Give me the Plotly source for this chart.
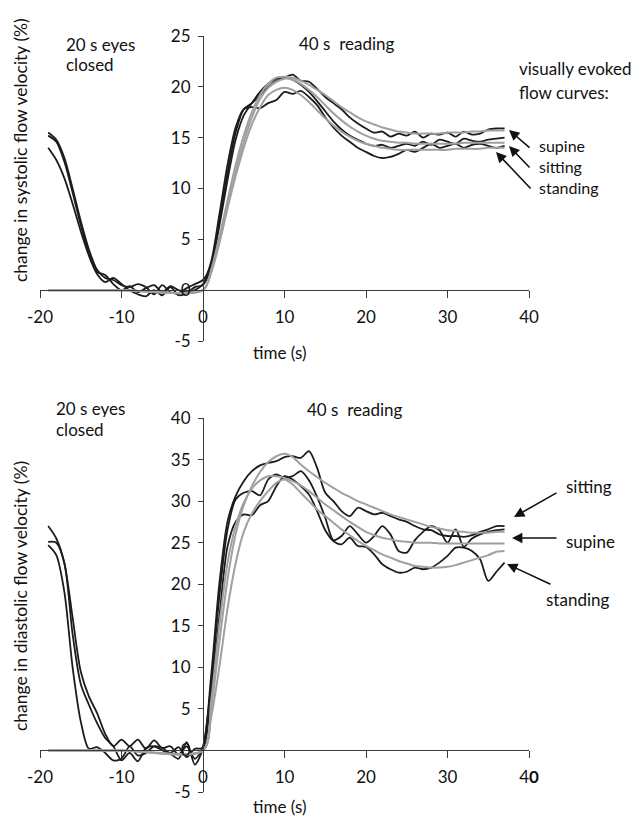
import plotly.graph_objects as go

# ---------------- data ----------------
t = list(range(-19, 38))                       # time (s) for measured curves
t_fit = [-19, -10] + list(range(0, 38))        # time (s) for fitted curves

# systolic (top panel) measured curves
sys_supine_data = [15.5, 14.8, 13.0, 10.0, 6.8, 4.0, 2.0, 1.2, 1.0, 0.5, 0.3, 0.6, 0.3, -0.4, 0.5, -0.2, -0.3, 0.2, 0.6,
                   1.0, 2.6, 6.8, 11.5, 15.5, 17.8, 18.4, 19.2, 20.0, 20.6, 20.9, 21.2, 20.6, 20.5, 19.8, 19.0, 18.4, 17.8,
                   17.0, 16.4, 15.9, 15.5, 15.6, 15.1, 15.4, 15.2, 15.6, 15.0, 15.4, 15.3, 15.5, 15.1, 15.6, 15.3, 15.4,
                   15.8, 15.9, 15.9]
sys_sitting_data = [14.0, 12.8, 11.0, 8.5, 5.8, 3.4, 1.6, 0.8, 1.2, 0.6, 0.0, -0.4, -0.6, 0.0, -0.5, 0.3, -0.5, -0.3, 0.3,
                    0.5, 2.3, 6.3, 10.8, 14.8, 17.2, 18.4, 19.5, 20.3, 20.8, 20.9, 20.7, 20.2, 19.5, 18.6, 17.6, 16.6, 15.8,
                    15.2, 14.8, 14.4, 14.2, 14.3, 14.0, 14.2, 14.4, 14.2, 14.6, 14.3, 14.8, 14.6, 14.4, 14.9, 14.7, 14.6,
                    14.8, 14.9, 15.0]
sys_standing_data = [15.2, 14.6, 12.6, 9.6, 6.4, 3.6, 1.8, 1.5, 0.6, 0.0, 0.4, -0.2, 0.2, 0.5, -0.2, 0.4, 0.0, -0.2, 0.0,
                     0.6, 2.8, 7.4, 12.3, 16.0, 17.8, 18.0, 17.9, 18.4, 18.7, 19.5, 19.3, 19.6, 19.0, 18.2, 17.0, 16.0, 15.2,
                     14.6, 14.0, 13.6, 13.2, 13.0, 13.1, 13.4, 13.8, 13.6, 14.0, 14.4, 14.0, 14.2, 14.4, 14.0, 14.3, 14.4,
                     14.2, 14.0, 14.2]

# systolic fitted curves
sys_supine_fit = [0.0, 0.0, 0.0, 2.0, 5.2, 8.8, 12.3, 15.2, 17.5, 19.2, 20.3, 20.9, 21.0, 20.9, 20.6, 20.2, 19.7, 19.2,
                  18.6, 18.0, 17.5, 17.0, 16.6, 16.3, 16.0, 15.8, 15.6, 15.5, 15.4, 15.4, 15.4, 15.4, 15.5, 15.5, 15.5,
                  15.6, 15.6, 15.7, 15.7, 15.7]
sys_sitting_fit = [0.0, 0.0, 0.0, 1.8, 4.8, 8.2, 11.6, 14.6, 17.0, 18.8, 19.9, 20.5, 20.8, 20.7, 20.3, 19.7, 19.0, 18.2,
                   17.4, 16.7, 16.1, 15.6, 15.2, 14.9, 14.7, 14.6, 14.5, 14.5, 14.4, 14.4, 14.4, 14.4, 14.4, 14.4, 14.5,
                   14.5, 14.5, 14.5, 14.5, 14.5]
sys_standing_fit = [0.0, 0.0, 0.0, 1.7, 4.6, 8.0, 11.2, 14.0, 16.3, 18.0, 19.2, 19.7, 19.9, 19.7, 19.2, 18.5, 17.7, 16.9,
                    16.2, 15.6, 15.1, 14.7, 14.4, 14.2, 14.0, 13.9, 13.8, 13.8, 13.8, 13.8, 13.8, 13.8, 13.8, 13.9, 13.9,
                    13.9, 13.9, 14.0, 14.0, 14.0]

# diastolic (bottom panel) measured curves
dia_sitting_data = [27.0, 25.5, 22.5, 16.0, 9.5, 6.5, 4.5, 2.0, 0.5, 1.3, 0.5, 1.3, 0.2, 1.2, 0.3, 0.5, -0.5, 0.5, -1.0,
                    0.5, 9.0, 20.0, 27.5, 30.6, 32.4, 33.6, 34.3, 34.6, 34.8, 35.3, 35.4, 35.2, 36.0, 34.0, 31.0, 30.0, 28.8,
                    28.2, 29.2, 28.8, 28.4, 28.6, 28.2, 27.8, 27.5, 27.0, 26.6, 26.5, 26.0, 25.8, 25.8, 25.7, 25.9, 26.3,
                    26.6, 27.0, 27.0]
dia_supine_data = [25.1, 25.0, 22.5, 14.0, 8.0, 5.5, 3.3, 1.5, 0.5, -1.2, -0.3, -1.3, 0.3, 0.5, 0.0, -0.4, -1.0, 1.0, -1.7,
                   0.3, 8.0, 18.5, 26.5, 30.2, 31.0, 31.2, 30.7, 32.6, 33.2, 32.8, 33.0, 33.6, 32.5, 30.5, 28.0, 25.3, 25.8,
                   27.0, 26.0, 25.0, 25.8, 27.0, 26.0, 24.0, 23.8, 25.3, 26.3, 27.0, 26.5, 25.0, 26.6, 24.5, 25.5, 26.0,
                   26.3, 26.5, 26.6]
dia_standing_data = [24.7, 23.5, 19.0, 10.0, 3.5, 0.2, 0.4, -0.3, -1.2, -1.0, 0.5, -0.6, -0.3, 0.5, 0.3, -0.3, 0.4, -0.8, 0.2,
                     0.3, 7.0, 16.0, 24.5, 27.5, 28.4, 28.3, 29.5, 30.0, 31.8, 33.0, 32.6, 31.8, 30.8, 28.8, 26.5, 25.2, 24.8,
                     25.6, 24.6, 24.5, 23.6, 22.4, 21.8, 21.4, 21.5, 22.0, 21.8, 22.0, 22.6, 23.4, 24.4, 24.4, 24.0, 23.0,
                     20.4, 21.5, 22.6]

# diastolic fitted curves
dia_sitting_fit = [0.0, 0.0, 0.0, 5.0, 13.0, 20.5, 26.0, 29.5, 31.8, 33.5, 34.7, 35.4, 35.7, 35.3, 34.4, 33.6, 32.9, 32.2,
                   31.6, 31.0, 30.5, 30.0, 29.6, 29.2, 28.8, 28.4, 28.1, 27.8, 27.5, 27.2, 26.9, 26.7, 26.5, 26.4, 26.3,
                   26.2, 26.2, 26.2, 26.3, 26.3]
dia_supine_fit = [0.0, 0.0, 0.0, 6.0, 15.0, 22.5, 27.0, 29.8, 31.5, 32.5, 33.0, 33.0, 32.8, 32.4, 31.9, 31.2, 30.4, 29.6,
                  28.9, 28.2, 27.5, 26.9, 26.3, 25.9, 25.6, 25.4, 25.2, 25.1, 25.0, 25.0, 25.0, 24.9, 24.9, 24.9, 24.9,
                  24.9, 24.9, 24.9, 24.9, 24.9]
dia_standing_fit = [0.0, 0.0, 0.0, 4.0, 10.0, 17.0, 22.5, 26.3, 28.5, 30.0, 31.2, 32.2, 32.6, 32.0, 31.0, 30.0, 29.0, 28.2,
                    27.4, 26.6, 25.9, 25.2, 24.6, 24.1, 23.6, 23.2, 22.8, 22.5, 22.2, 22.1, 22.0, 22.0, 22.1, 22.3, 22.6,
                    22.9, 23.2, 23.5, 23.9, 24.0]

x_ticks = [-20, -10, 0, 10, 20, 30, 40]
x_ticktext_top = ["-20", "-10", "0", "10", "20", "30", "40"]
x_ticktext_bottom = ["-20", "-10", "0", "10", "20", "30", "4<b>0</b>"]
y_ticks_top = [-5, 0, 5, 10, 15, 20, 25]
y_ticktext_top = ["-5", "0", "5", "10", "15", "20", "25"]
y_ticks_bottom = [-5, 0, 5, 10, 15, 20, 25, 30, 35, 40]
y_ticktext_bottom = ["-5", "0", "5", "10", "15", "20", "25", "30", "35", "40"]

# ---------------- layout geometry (page pixels; page body has an 8px margin) ----------------
OFF = 8
W, H = 643 - OFF, 818 - OFF
PL, PR, PT, PB = 40, 529, 36, 792          # plot area edges in page pixels
L, T = PL - OFF, PT - OFF
R, B = W - (PR - OFF), H - (PB - OFF)
PW, PH = PR - PL, PB - PT


def P(px, py):
    return (px - PL) / PW, (PB - py) / PH


top_dom = [P(0, 341)[1], 1.0]
bot_dom = [0.0, P(0, 418)[1]]
x_top_pos = top_dom[0] + (top_dom[1] - top_dom[0]) * 5 / 30
x_bot_pos = bot_dom[0] + (bot_dom[1] - bot_dom[0]) * 5 / 45

BLACK = "#1c1c1c"
GRAY = "#a0a0a0"
AX = "#3a3a3a"
FONT = "Lato"
TXT = 17
TICK = 17

fig = go.Figure()


def add_line(x, y, color, width, xa, ya):
    fig.add_trace(go.Scatter(x=x, y=y, mode="lines",
                             line=dict(color=color, width=width, shape="spline", smoothing=0.8),
                             xaxis=xa, yaxis=ya, showlegend=False, hoverinfo="skip"))


for d in (sys_supine_data, sys_sitting_data, sys_standing_data):
    add_line(t, d, BLACK, 1.8, "x", "y")
for f in (sys_supine_fit, sys_sitting_fit, sys_standing_fit):
    add_line(t_fit, f, GRAY, 2.0, "x", "y")
for d in (dia_sitting_data, dia_supine_data, dia_standing_data):
    add_line(t, d, BLACK, 1.8, "x2", "y2")
for f in (dia_sitting_fit, dia_supine_fit, dia_standing_fit):
    add_line(t_fit, f, GRAY, 2.0, "x2", "y2")

common_x = dict(range=[-20, 40], tickmode="array", tickvals=x_ticks, ticks="outside", ticklen=7,
                tickwidth=1, tickcolor=AX, showline=True, linecolor=AX, linewidth=1,
                showgrid=False, zeroline=False, anchor="free", domain=[0, 1],
                tickfont=dict(family=FONT, size=TICK, color="#111"), ticklabelstandoff=4)
common_y = dict(tickmode="array", ticks="outside", ticklen=5, tickwidth=1, tickcolor=AX,
                showline=True, linecolor=AX, linewidth=1, showgrid=False, zeroline=False,
                anchor="free", position=1 / 3, side="left",
                tickfont=dict(family=FONT, size=TICK, color="#111"), ticklabelstandoff=4)

fig.update_layout(
    width=W, height=H,
    margin=dict(l=L, r=R, t=T, b=B, pad=0),
    paper_bgcolor="white", plot_bgcolor="white",
    font=dict(family=FONT, size=TXT, color="#111"),
    xaxis=dict(common_x, position=x_top_pos, ticktext=x_ticktext_top),
    xaxis2=dict(common_x, position=x_bot_pos, ticktext=x_ticktext_bottom),
    yaxis=dict(common_y, domain=top_dom, range=[-5, 25], tickvals=y_ticks_top, ticktext=y_ticktext_top),
    yaxis2=dict(common_y, domain=bot_dom, range=[-5, 40], tickvals=y_ticks_bottom, ticktext=y_ticktext_bottom),
)

ann = []


def text(px, py, s, xanchor="left", angle=0, size=TXT, height=None):
    x, y = P(px, py)
    a = dict(x=x, y=y, xref="paper", yref="paper", text=s, showarrow=False,
             xanchor=xanchor, yanchor="middle", textangle=angle, borderpad=0, align="left",
             font=dict(family=FONT, size=size, color="#111"))
    if height is not None:
        a["height"] = height
        a["valign"] = "middle"
    ann.append(a)


def arrow(hx, hy, tx, ty):
    x, y = P(hx, hy)
    ann.append(dict(x=x, y=y, xref="paper", yref="paper", text="", showarrow=True,
                    ax=tx - hx, ay=ty - hy, arrowhead=2, arrowsize=1.3, arrowwidth=1.6,
                    arrowcolor="#111"))


# top panel texts
text(65, 45, "20 s eyes", height=17)
text(65, 64, "closed", height=17)
text(298, 43, "40 s  reading")
text(518, 68, "visually evoked")
text(518, 92, "flow curves:")
text(538, 166, "supine<br>sitting<br>standing", size=16)
arrow(509, 130, 531, 149)
arrow(509, 146, 531, 169)
arrow(496, 152, 532, 190)
text(20, 150, "change in systolic flow velocity (%)", xanchor="center", angle=-90, size=17.5)
text(280, 352, "time (s)", xanchor="center")

# bottom panel texts
text(55, 408, "20 s eyes", height=18)
text(55, 429, "closed", height=18)
text(306, 410, "40 s  reading")
text(565, 487, "sitting")
text(565, 541, "supine")
text(545, 599, "standing")
arrow(514, 517, 558, 492)
arrow(512, 538, 558, 538)
arrow(507, 564, 552, 585)
text(20, 596, "change in diastolic flow velocity (%)", xanchor="center", angle=-90, size=17.5)
text(280, 806, "time (s)", xanchor="center")

fig.update_layout(annotations=ann)
fig.write_html("out.html")
